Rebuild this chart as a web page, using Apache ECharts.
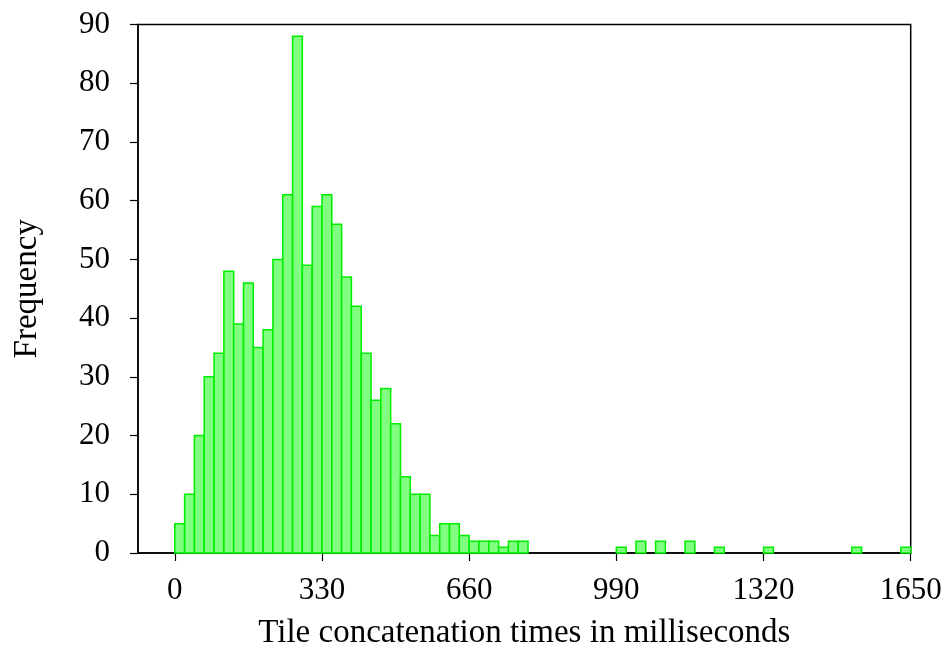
<!DOCTYPE html>
<html>
<head>
<meta charset="utf-8">
<script src="https://cdn.jsdelivr.net/npm/echarts@6/dist/echarts.min.js"></script>
<style>html,body{margin:0;padding:0;background:#fff;}#c{width:950px;height:655px;}</style>
</head>
<body>
<div id="c"></div>
<script>
// Histogram bins: each bin is binWidth ms wide, starting at 0
const binWidth = 22;
const counts = [
  5, 10, 20, 30, 34, 48, 39, 46, 35, 38,
  50, 61, 88, 49, 59, 61, 56, 47, 42, 34,
  26, 28, 22, 13, 10, 10, 3, 5, 5, 3,
  2, 2, 2, 1, 2, 2, 0, 0, 0, 0,
  0, 0, 0, 0, 0, 1, 0, 2, 0, 2,
  0, 0, 2, 0, 0, 1, 0, 0, 0, 0,
  1, 0, 0, 0, 0, 0, 0, 0, 0, 1,
  0, 0, 0, 0, 1
];
const xTicks = [0, 330, 660, 990, 1320, 1650];
const yTicks = [0, 10, 20, 30, 40, 50, 60, 70, 80, 90];
const xTitle = 'Tile concatenation times in milliseconds';
const yTitle = 'Frequency';

const barData = [];
counts.forEach((c, i) => {
  if (c > 0) barData.push([i * binWidth, (i + 1) * binWidth, c]);
});

const font = 'Liberation Serif';
const plain = v => String(v);
const chart = echarts.init(document.getElementById('c'), null, {renderer: 'canvas'});
chart.setOption({
  animation: false,
  backgroundColor: '#fff',
  grid: {left: 138, top: 24.5, right: 39.3, bottom: 96.3, show: true, borderColor: '#000', borderWidth: 1.5, backgroundColor: 'transparent'},
  xAxis: {
    type: 'value', min: -82.5, max: 1650,
    name: xTitle, nameLocation: 'middle', nameGap: 64,
    nameTextStyle: {fontFamily: font, fontSize: 33, color: '#000'},
    axisLine: {show: true, onZero: false, lineStyle: {color: '#000', width: 1.5}},
    axisTick: {show: true, length: 8, inside: false, customValues: xTicks, lineStyle: {color: '#000', width: 1.2}},
    axisLabel: {customValues: xTicks, formatter: plain, margin: 22, fontFamily: font, fontSize: 31, color: '#000'},
    splitLine: {show: false}
  },
  yAxis: {
    type: 'value', min: 0, max: 90, interval: 10,
    name: yTitle, nameLocation: 'middle', nameGap: 94,
    nameTextStyle: {fontFamily: font, fontSize: 33, color: '#000'},
    axisLine: {show: true, onZero: false, lineStyle: {color: '#000', width: 1.5}},
    axisTick: {show: true, length: 8, inside: false, customValues: yTicks, lineStyle: {color: '#000', width: 1.2}},
    axisLabel: {customValues: yTicks, formatter: plain, margin: 28, fontFamily: font, fontSize: 31, color: '#000'},
    splitLine: {show: false}
  },
  series: [{
    type: 'custom',
    data: barData,
    encode: {x: [0, 1], y: 2},
    renderItem: function (params, api) {
      const p0 = api.coord([api.value(0), api.value(2)]);
      const p1 = api.coord([api.value(1), 0]);
      return {
        type: 'rect',
        shape: {x: p0[0], y: p0[1], width: p1[0] - p0[0], height: p1[1] - p0[1]},
        style: {fill: '#80ff80', stroke: '#00ee00', lineWidth: 1.5}
      };
    }
  }]
});
</script>
</body>
</html>
